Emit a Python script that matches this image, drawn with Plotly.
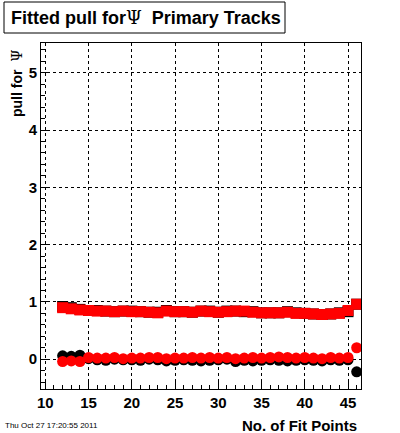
import plotly.graph_objects as go

fit_points = list(range(12, 47))

black_sigma = [0.92, 0.90, 0.87, 0.85, 0.85, 0.84, 0.83, 0.84, 0.84, 0.83, 0.82, 0.82, 0.85, 0.83, 0.83, 0.82, 0.84, 0.84, 0.82, 0.84, 0.84, 0.83, 0.83, 0.81, 0.81, 0.81, 0.83, 0.81, 0.80, 0.79, 0.78, 0.79, 0.81, 0.83, 0.96]
red_sigma = [0.90, 0.88, 0.86, 0.85, 0.84, 0.84, 0.83, 0.84, 0.83, 0.83, 0.82, 0.81, 0.84, 0.83, 0.83, 0.82, 0.84, 0.83, 0.82, 0.83, 0.84, 0.84, 0.82, 0.81, 0.81, 0.81, 0.82, 0.80, 0.80, 0.79, 0.78, 0.79, 0.80, 0.85, 0.96]
black_mean = [0.06, 0.05, 0.07, 0.01, -0.01, -0.02, 0.00, -0.01, -0.01, -0.02, 0.00, -0.01, -0.03, -0.02, -0.01, -0.02, -0.03, -0.02, -0.01, 0.00, -0.04, -0.02, -0.03, -0.02, -0.01, -0.02, -0.03, -0.02, -0.01, -0.02, -0.03, -0.01, -0.02, -0.01, -0.22]
red_mean = [-0.04, -0.03, -0.04, 0.03, 0.02, 0.02, 0.03, 0.01, 0.02, 0.02, 0.03, 0.03, 0.01, 0.02, 0.02, 0.03, 0.02, 0.03, 0.02, 0.03, 0.01, 0.02, 0.03, 0.02, 0.03, 0.04, 0.03, 0.02, 0.03, 0.02, 0.01, 0.03, 0.02, 0.03, 0.20]

x_ticks = [10, 15, 20, 25, 30, 35, 40, 45]
y_ticks = [0, 1, 2, 3, 4, 5]

FONT = "Liberation Sans, Arial, sans-serif"
PSI = "<span style='font-family:DejaVu Serif;font-weight:normal'>\u03a8</span>"

fig = go.Figure()
fig.add_trace(go.Scatter(x=fit_points, y=black_sigma, mode="markers",
                         marker=dict(symbol="square", size=11, color="black"), showlegend=False))
fig.add_trace(go.Scatter(x=fit_points, y=black_mean, mode="markers",
                         marker=dict(symbol="circle", size=11, color="black"), showlegend=False))
fig.add_trace(go.Scatter(x=fit_points, y=red_sigma, mode="markers",
                         marker=dict(symbol="square", size=11, color="red"), showlegend=False))
fig.add_trace(go.Scatter(x=fit_points, y=red_mean, mode="markers",
                         marker=dict(symbol="circle", size=11, color="red"), showlegend=False))

L, R, T, B = 41, 39, 43, 44
W, H = 400, 433
pw, ph = W - L - R, H - T - B

def px(xp):
    return (xp - L) / pw

def py(yp):
    return (H - B - yp) / ph

axis_common = dict(
    showline=True, linecolor="black", linewidth=1, mirror=True,
    ticks="inside", ticklen=8, tickcolor="black", tickwidth=1,
    showgrid=True, gridcolor="black", gridwidth=1, griddash="3px,3px",
    zeroline=False,
    tickfont=dict(family=FONT, size=15, color="black", weight="bold"),
)

fig.update_xaxes(range=[9.5, 46.5], tickvals=x_ticks, ticktext=[str(v) for v in x_ticks],
                 minor=dict(dtick=1, tick0=10, ticks="inside", ticklen=4, tickcolor="black", showgrid=False),
                 **axis_common)
fig.update_yaxes(range=[-0.52, 5.52], tickvals=y_ticks, ticktext=[str(v) for v in y_ticks],
                 minor=dict(dtick=0.2, tick0=0, ticks="inside", ticklen=4, tickcolor="black", showgrid=False),
                 **axis_common)

fig.add_shape(type="rect", xref="paper", yref="paper",
              x0=px(4), x1=px(285), y0=py(33), y1=py(2),
              line=dict(color="black", width=1), fillcolor="white")

fig.add_annotation(xref="paper", yref="paper", x=px(146), y=py(17.5),
                   xanchor="center", yanchor="middle", showarrow=False,
                   text="Fitted pull for" + PSI + "\u00a0\u00a0Primary Tracks",
                   font=dict(family=FONT, size=18, color="black", weight="bold"))
fig.add_annotation(xref="paper", yref="paper", x=px(17), y=py(47),
                   xanchor="center", yanchor="top", showarrow=False, textangle=-90,
                   text="pull for\u00a0\u00a0" + PSI,
                   font=dict(family=FONT, size=14, color="black", weight="bold"))
fig.add_annotation(xref="paper", yref="paper", x=px(359), y=py(425),
                   xanchor="right", yanchor="middle", showarrow=False,
                   text="No. of Fit Points",
                   font=dict(family=FONT, size=15, color="black", weight="bold"))
fig.add_annotation(xref="paper", yref="paper", x=px(3), y=py(425),
                   xanchor="left", yanchor="middle", showarrow=False,
                   text="Thu Oct 27 17:20:55 2011",
                   font=dict(family=FONT, size=8, color="black"))

fig.update_layout(width=W, height=H, margin=dict(l=L, r=R, t=T, b=B, autoexpand=False),
                  paper_bgcolor="white", plot_bgcolor="white", showlegend=False)

fig.write_html("out.html", config={"displayModeBar": False},
               post_script="document.body.style.margin='0';document.body.style.padding='0';document.documentElement.style.overflow='hidden';")
